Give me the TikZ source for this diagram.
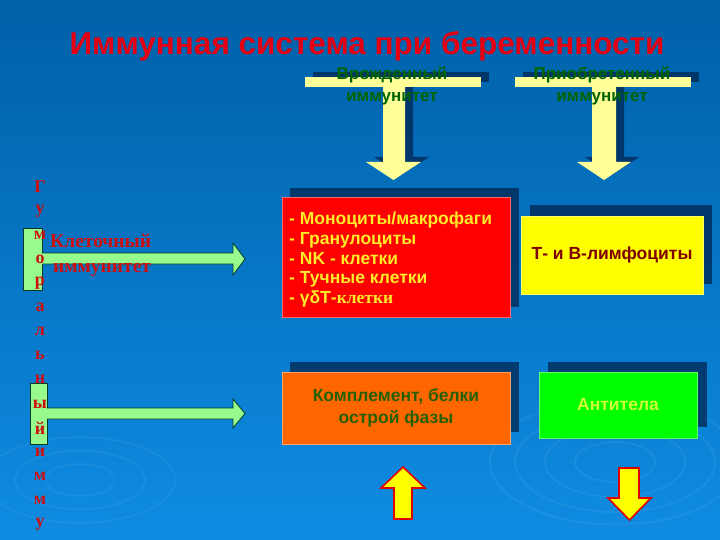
\documentclass[tikz,border=0pt]{standalone}
\usepackage{fontspec}
\setmainfont{Liberation Sans}
\newfontfamily\serifb{Liberation Serif}
\definecolor{bgtop}{RGB}{0,96,168}
\definecolor{bgbot}{RGB}{14,140,226}
\definecolor{shadowc}{RGB}{0,38,80}
\definecolor{paley}{RGB}{255,255,153}
\definecolor{titlered}{RGB}{228,0,18}
\definecolor{lblgreen}{RGB}{0,100,0}
\definecolor{boxred}{RGB}{255,0,0}
\definecolor{boxyel}{RGB}{255,255,0}
\definecolor{boxorange}{RGB}{255,102,0}
\definecolor{boxgreen}{RGB}{0,255,0}
\definecolor{txtyel}{RGB}{255,236,40}
\definecolor{txtdred}{RGB}{128,0,0}
\definecolor{txtolive}{RGB}{40,95,0}
\definecolor{txtlime}{RGB}{204,255,51}
\definecolor{arrgreen}{RGB}{150,250,140}
\definecolor{arrborder}{RGB}{0,60,40}
\definecolor{vred}{RGB}{205,15,15}
\definecolor{updn}{RGB}{255,255,0}
\definecolor{updnb}{RGB}{225,0,0}
\begin{document}
\begin{tikzpicture}[x=1pt,y=-1pt,
  shadowbox/.style={fill=shadowc,opacity=0.75},
  tarrow/.style={fill=paley},
  box/.style={draw=#1!60!white,line width=0.6pt,inner sep=4pt},
  bigtxt/.style={font=\bfseries\fontsize{17.5}{19.7}\selectfont},
  lbl/.style={font=\bfseries\fontsize{17}{22}\selectfont,text=lblgreen,align=center},
  sidearrow/.style={fill=arrgreen,draw=arrborder,line width=0.8pt},
  vertarrow/.style={fill=updn,draw=updnb,line width=1.6pt,line join=miter},
  vlet/.style={font=\serifb\bfseries\fontsize{18}{18}\selectfont,text=vred,inner sep=0pt}]
\useasboundingbox (0,0) rectangle (720,540);
\clip (0,0) rectangle (720,540);
\shade[top color=bgtop,bottom color=bgbot] (0,0) rectangle (720,540);
% faint ripples
\foreach \r in {40,70,100,125}{
  \draw[white,opacity=0.06,line width=2pt] (615,462) ellipse ({\r} and {\r*0.5});
}
\foreach \r in {35,65,95}{
  \draw[white,opacity=0.05,line width=2pt] (80,480) ellipse ({\r} and {\r*0.45});
}
% title
\node[anchor=base,font=\bfseries\fontsize{31.5}{33}\selectfont,text=titlered] (title) at (367,55) {Иммунная система при беременности};
% T-arrows shadows
\begin{scope}[shift={(8,-5)}]
  \fill[shadowbox] (305,77) rectangle (481,87);
  \fill[shadowbox] (383,87) -- (405,87) -- (405,162) -- (421,162) -- (393.5,180) -- (366,162) -- (383,162) -- cycle;
  \fill[shadowbox] (515,77) rectangle (691,87);
  \fill[shadowbox] (592,87) -- (616,87) -- (616,162) -- (631,162) -- (604,180) -- (577,162) -- (592,162) -- cycle;
\end{scope}
% T-arrows
\fill[tarrow] (305,77) rectangle (481,87);
\fill[tarrow] (383,87) -- (405,87) -- (405,162) -- (421,162) -- (393.5,180) -- (366,162) -- (383,162) -- cycle;
\fill[tarrow] (515,77) rectangle (691,87);
\fill[tarrow] (592,87) -- (616,87) -- (616,162) -- (631,162) -- (604,180) -- (577,162) -- (592,162) -- cycle;
\node[lbl] (innate) at (392,85.5) {Врожденный\\иммунитет};
\node[lbl] (acquired) at (602,85.5) {Приобретенный\\иммунитет};
% box shadows
\fill[shadowbox] (290,188) rectangle (519,307);
\fill[shadowbox] (530,205) rectangle (712,284);
\fill[shadowbox] (290,362) rectangle (519,432);
\fill[shadowbox] (548,362) rectangle (707,427);
% boxes
\node[box=boxred,fill=boxred,minimum width=228pt,minimum height=120pt] (cells) at (396,257) {};
\node[bigtxt,text=txtyel,anchor=west,align=left,inner sep=0pt] (cellstxt) at (289,259.5) {- Моноциты/макрофаги\\- Гранулоциты\\- NK - клетки\\- Тучные клетки\\- γδТ-{\serifb\bfseries клетки}};
\node[box=boxyel,fill=boxyel,minimum width=182pt,minimum height=78pt,bigtxt,text=txtdred] (lymph) at (612,255) {Т- и В-лимфоциты};
\node[box=boxorange,fill=boxorange,minimum width=228pt,minimum height=72pt,text=txtolive,align=center,font=\bfseries\fontsize{17.5}{22}\selectfont] (compl) at (396,408) {Комплемент, белки\\острой фазы};
\node[box=boxgreen,fill=boxgreen,minimum width=158pt,minimum height=66pt,bigtxt,text=txtlime] (antib) at (618,405) {Антитела};
% up / down arrows
\draw[vertarrow] (394,519) -- (412,519) -- (412,488) -- (425,488) -- (403,467) -- (381,488) -- (394,488) -- cycle;
\draw[vertarrow] (619,468) -- (639,468) -- (639,498) -- (651,498) -- (629.5,520) -- (608,498) -- (619,498) -- cycle;
% side green arrows
\draw[sidearrow] (23,228) rectangle (42,290);
\filldraw[sidearrow] (42,253) -- (233,253) -- (233,243) -- (245,259) -- (233,275) -- (233,264) -- (42,264);
\draw[sidearrow] (30,383) rectangle (47,444);
\filldraw[sidearrow] (47,408) -- (233,408) -- (233,399) -- (245,413.5) -- (233,428) -- (233,419) -- (47,419);
% vertical text (visible part)
\foreach \ch [count=\i from 0] in {Г,у,м,о,р,а,л,ь,н,ы,й,и,м,м,у}{
  \node[vlet] (v\i) at (40,{187+24.1*\i}) {\ch};
}
\node[font=\serifb\bfseries\fontsize{19.5}{25}\selectfont,text=vred,anchor=west,align=left,inner sep=0pt] (celltxt) at (50,255.5) {Клеточный\\\hspace*{3pt}иммунитет};
\end{tikzpicture}
\end{document}
